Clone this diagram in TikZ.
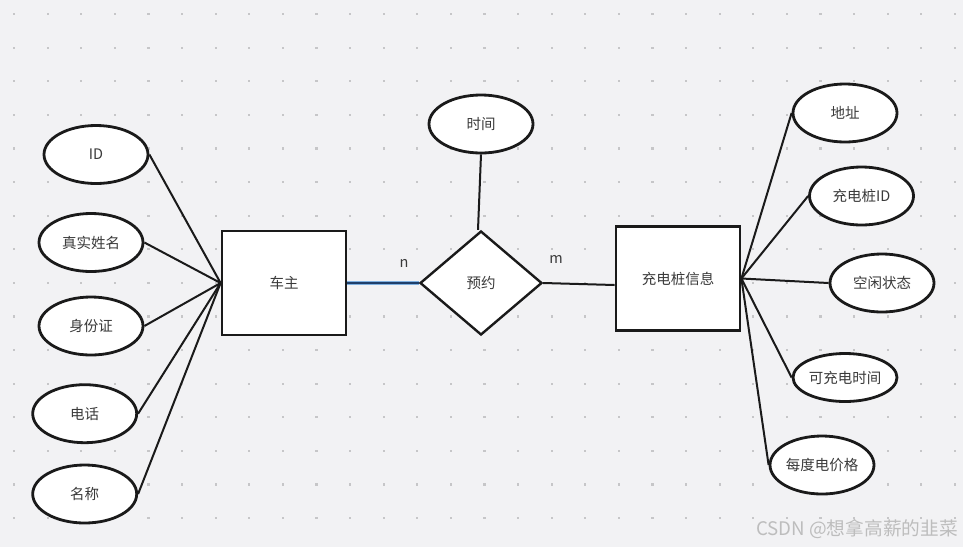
\documentclass[tikz,border=0pt]{standalone}
\usepackage{fontspec}
\setmainfont{Noto Sans CJK SC}
\usetikzlibrary{shapes.geometric,calc}
\definecolor{bgc}{HTML}{F2F2F4}
\definecolor{dotc}{HTML}{C6C6C8}
\definecolor{txt}{HTML}{3A3A3A}
\definecolor{edge}{HTML}{1A1A1A}
\definecolor{selblue}{HTML}{7FB0E0}
\definecolor{selnavy}{HTML}{1F3F6A}
\definecolor{wm}{HTML}{BDBDBD}
\begin{document}
\begin{tikzpicture}[x=1pt,y=-1pt,
  every node/.style={text=txt,font=\fontsize{14.5pt}{16pt}\selectfont},
  attr/.style={ellipse,draw=edge,fill=white,line width=2.8pt,minimum width=104pt,minimum height=58pt,inner sep=0pt},
  entity/.style={rectangle,draw=edge,fill=white,line width=2.8pt,minimum width=124pt,minimum height=104pt,inner sep=0pt},
  rel/.style={diamond,draw=edge,fill=white,line width=2.4pt,minimum width=122pt,minimum height=104pt,inner sep=0pt,aspect=1.17},
  link/.style={draw=edge,line width=2pt},
  card/.style={text=txt,font=\fontsize{14.5pt}{16pt}\selectfont}
]
\fill[bgc] (0,0) rectangle (963,547);
\useasboundingbox (0,0) rectangle (963,547);
\foreach \i in {0,...,28}{
  \foreach \j in {0,...,15}{
    \fill[dotc] ({14+33.6*\i-1.1},{14+33.6*\j-1.1}) rectangle ++(2.2,2.2);
  }
}
% entities and relationship
\node[entity] (cz) at (284,283) {车主};
\node[entity] (cdz) at (678,278.5) {充电桩信息};
\node[rel] (yy) at (481,283) {预约};
% left attributes
\node[attr] (id) at (96,154.5) {ID};
\node[attr] (xm) at (91,242.5) {真实姓名};
\node[attr] (sfz) at (91,326) {身份证};
\node[attr] (dh) at (84.7,413.7) {电话};
\node[attr] (mc) at (84.7,494) {名称};
% top attribute
\node[attr] (sj) at (481,124) {时间};
% right attributes
\node[attr] (dz) at (845,113) {地址};
\node[attr] (zid) at (861.5,196) {充电桩ID};
\node[attr] (kx) at (882,283) {空闲状态};
\node[attr,minimum height=48pt] (kcd) at (845,377.5) {可充电时间};
\node[attr] (jg) at (822,465) {每度电价格};
% connectors
\foreach \a in {id,xm,sfz,dh,mc}{
  \draw[link] (\a.east) -- (cz.west);
}
\foreach \a in {dz,zid,kx,kcd,jg}{
  \draw[link] (cdz.east) -- (\a.west);
}
\draw[link] (sj.south) -- ([xshift=-3pt]yy.north);
\draw[link] (yy.east) -- ([yshift=-6.5pt]cdz.west);
\draw[selblue,line width=3.4pt] (cz.east) -- (yy.west);
\draw[selnavy,line width=1.6pt] (cz.east) -- (yy.west);
% cardinalities
\node[card] (n) at (404,263) {n};
\node[card] (m) at (556,259) {m};
% watermark
\node[anchor=east,text=wm,font=\fontsize{18.7pt}{20pt}\selectfont,inner sep=0pt] (wmk) at (958,529) {CSDN @想拿高薪的韭菜};
\end{tikzpicture}
\end{document}
